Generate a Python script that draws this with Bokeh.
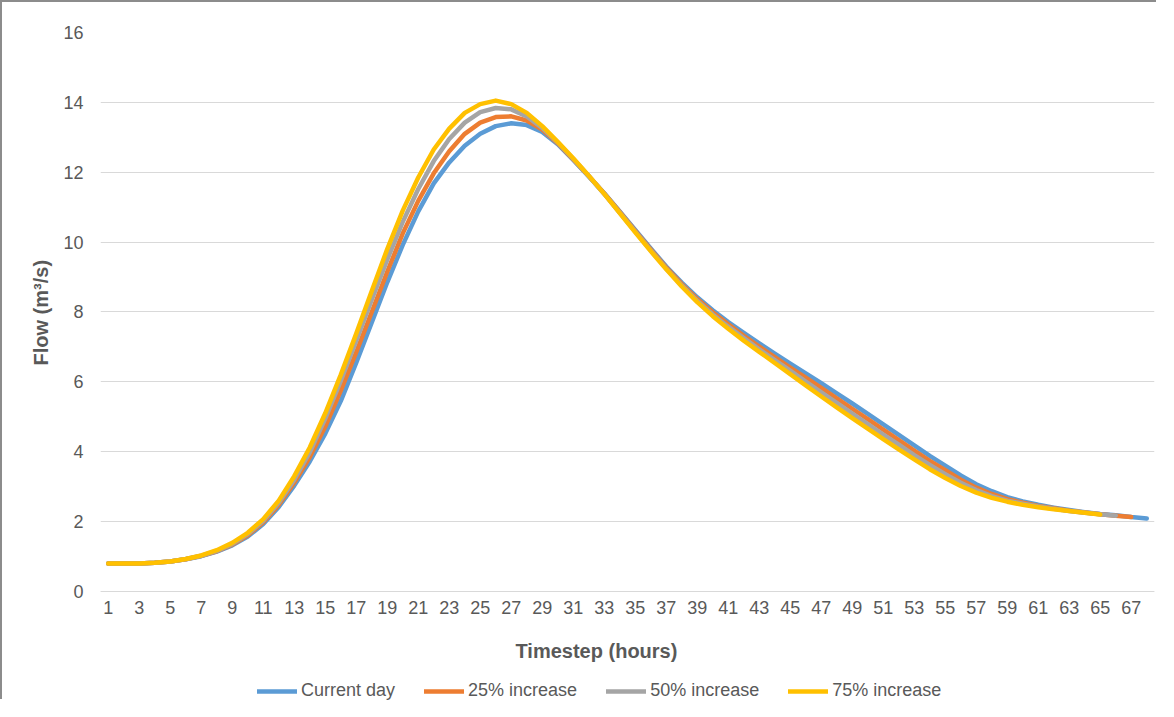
from bokeh.plotting import figure
from bokeh.models import Range1d, FixedTicker, Legend, LegendItem, Title, Label
from bokeh.embed import file_html
from bokeh.resources import INLINE

# ---- data ----
x_tick_labels = list(range(1, 68, 2))          # 1, 3, 5, ... 67
y_ticks = [0, 2, 4, 6, 8, 10, 12, 14, 16]

series_names = ["Current day", "25% increase", "50% increase", "75% increase"]
series_colors = ["#5B9BD5", "#ED7D31", "#A5A5A5", "#FFC000"]

current_day = [0.80, 0.80, 0.80, 0.82, 0.86, 0.92, 1.01, 1.14, 1.32, 1.57,
               1.93, 2.42, 3.03, 3.72, 4.52, 5.45, 6.55, 7.70, 8.85, 9.92,
               10.88, 11.68, 12.28, 12.76, 13.10, 13.32, 13.40, 13.35, 13.15, 12.80,
               12.35, 11.88, 11.40, 10.88, 10.35, 9.82, 9.30, 8.84, 8.42, 8.05,
               7.71, 7.40, 7.10, 6.81, 6.52, 6.24, 5.96, 5.67, 5.38, 5.08,
               4.78, 4.48, 4.18, 3.88, 3.60, 3.32, 3.07, 2.87, 2.70, 2.58,
               2.48, 2.40, 2.33, 2.27, 2.22, 2.18, 2.13, 2.09]

increase_25 = [0.80, 0.80, 0.80, 0.82, 0.86, 0.92, 1.02, 1.15, 1.34, 1.61,
               1.98, 2.48, 3.12, 3.85, 4.72, 5.75, 6.85, 8.00, 9.15, 10.25,
               11.18, 11.97, 12.60, 13.10, 13.42, 13.58, 13.60, 13.48, 13.22, 12.83,
               12.37, 11.89, 11.39, 10.86, 10.32, 9.79, 9.27, 8.80, 8.37, 7.99,
               7.65, 7.32, 7.01, 6.71, 6.41, 6.12, 5.83, 5.53, 5.23, 4.93,
               4.63, 4.33, 4.03, 3.74, 3.47, 3.20, 2.97, 2.79, 2.64, 2.54,
               2.45, 2.38, 2.31, 2.26, 2.21, 2.17, 2.13]

increase_50 = [0.80, 0.80, 0.80, 0.82, 0.86, 0.93, 1.02, 1.16, 1.36, 1.64,
               2.02, 2.54, 3.20, 3.98, 4.95, 6.03, 7.18, 8.35, 9.50, 10.58,
               11.52, 12.32, 12.95, 13.42, 13.72, 13.84, 13.80, 13.60, 13.27, 12.85,
               12.38, 11.89, 11.38, 10.84, 10.30, 9.76, 9.24, 8.76, 8.32, 7.93,
               7.58, 7.25, 6.93, 6.62, 6.32, 6.01, 5.70, 5.40, 5.09, 4.79,
               4.49, 4.20, 3.90, 3.62, 3.36, 3.11, 2.90, 2.73, 2.60, 2.51,
               2.43, 2.37, 2.30, 2.25, 2.21, 2.17]

increase_75 = [0.80, 0.80, 0.80, 0.82, 0.86, 0.93, 1.03, 1.18, 1.39, 1.68,
               2.07, 2.60, 3.30, 4.12, 5.10, 6.20, 7.38, 8.60, 9.80, 10.90,
               11.85, 12.65, 13.25, 13.70, 13.95, 14.05, 13.95, 13.70, 13.32, 12.87,
               12.40, 11.90, 11.38, 10.83, 10.28, 9.74, 9.22, 8.73, 8.28, 7.88,
               7.52, 7.18, 6.86, 6.54, 6.22, 5.90, 5.58, 5.27, 4.96, 4.66,
               4.36, 4.07, 3.78, 3.50, 3.25, 3.02, 2.83, 2.68, 2.57, 2.48,
               2.41, 2.35, 2.30, 2.25, 2.20]

all_series = [current_day, increase_25, increase_50, increase_75]

FONT = "Liberation Sans"
TXT = "#595959"
GRID = "#D9D9D9"

# frame runs down to the bottom of the canvas so that the x title and the
# legend (which sit below the value 0) are inside it; 0 stays at the frame
# position of the reference
p = figure(width=1156, height=699, output_backend="svg", toolbar_location=None,
           x_range=Range1d(0.5, 68.5), y_range=Range1d(-3.15, 16),
           min_border_left=98, min_border_right=4, min_border_top=30,
           min_border_bottom=0, background_fill_color="white",
           border_fill_color="white")
p.outline_line_color = None
p.styles = {"border-left": "2px solid #8C8C8C", "border-top": "2px solid #8C8C8C"}

# axes
p.xaxis.ticker = FixedTicker(ticks=x_tick_labels)
p.yaxis.ticker = FixedTicker(ticks=y_ticks)
for ax in (p.xaxis, p.yaxis):
    ax.major_tick_line_color = None
    ax.minor_tick_line_color = None
    ax.major_tick_out = 0
    ax.major_tick_in = 0
    ax.minor_tick_out = 0
    ax.minor_tick_in = 0
    ax.major_label_text_font = FONT
    ax.major_label_text_font_size = "18px"
    ax.major_label_text_color = TXT
p.xaxis.fixed_location = 0
p.xaxis.axis_line_color = GRID
p.yaxis.axis_line_color = None
p.xaxis.major_label_standoff = 10
p.yaxis.major_label_standoff = 17

p.xgrid.grid_line_color = None
p.ygrid.grid_line_color = GRID
p.ygrid.grid_line_width = 1

items = []
for name, color, vals in zip(series_names, series_colors, all_series):
    hours = list(range(1, len(vals) + 1))
    r = p.line(hours, vals, line_color=color, line_width=4.5,
               line_cap="round", line_join="round")
    items.append(LegendItem(label=name, renderers=[r]))

ytitle = Title(text="Flow (m³/s)", align="left", offset=336, standoff=17,
               text_font=FONT, text_font_size="20px", text_font_style="bold",
               text_color=TXT)
p.add_layout(ytitle, "left")

xtitle = Label(x=415, y=51, x_units="screen", y_units="screen",
               text="Timestep (hours)", text_align="left", text_baseline="middle",
               text_font=FONT, text_font_size="20px", text_font_style="bold",
               text_color=TXT)
p.add_layout(xtitle)

legend = Legend(items=items, location=(157, 0), orientation="horizontal",
                glyph_width=40, glyph_height=18, label_height=18,
                label_standoff=4, spacing=29,
                padding=0, margin=0, border_line_color=None,
                background_fill_alpha=0, label_text_font=FONT,
                label_text_font_size="18px", label_text_color=TXT)
p.add_layout(legend)

open("out.html", "w").write(file_html(p, INLINE))
